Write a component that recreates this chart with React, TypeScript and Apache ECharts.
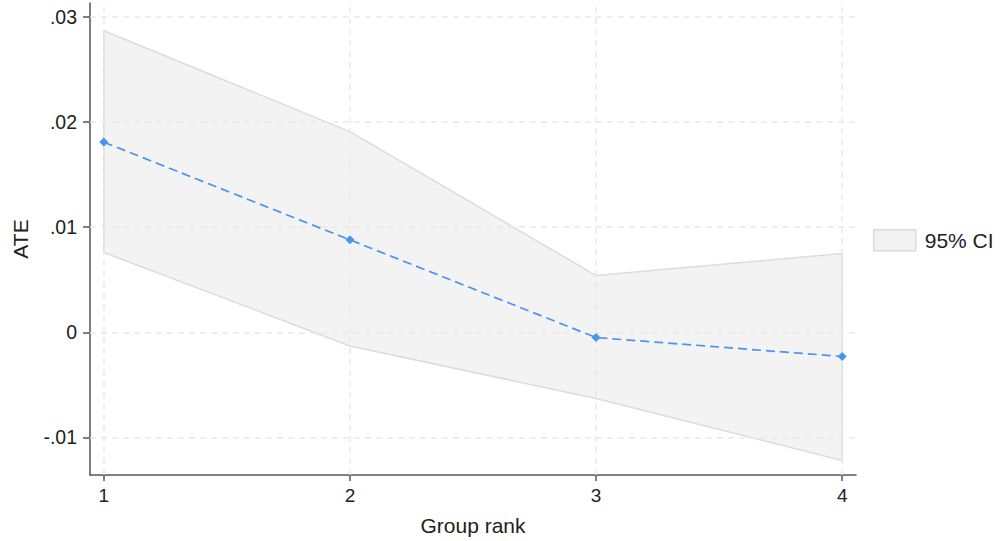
import React, { useEffect, useRef } from "react";
import * as echarts from "echarts";

const groupRanks = [1, 2, 3, 4];
const ateValues = [0.0181, 0.0088, -0.0005, -0.0023];
const ciUpper = [0.0287, 0.0191, 0.0054, 0.0075];
const ciLower = [0.0076, -0.0013, -0.0063, -0.0122];
const yTickValues = [-0.01, 0, 0.01, 0.02, 0.03];
const xTickValues = [1, 2, 3, 4];
const legendLabel = "95% CI";

const fmtY = (v: number) => {
  if (Math.abs(v) < 1e-9) return "0";
  const s = (Math.round(v * 100) / 100).toString();
  return s.replace("0.", ".");
};

const FONT = "Liberation Sans, Arial, Helvetica, sans-serif";

export default function App() {
  const ref = useRef<HTMLDivElement>(null);
  useEffect(() => {
    if (!ref.current) return;
    const chart = echarts.init(ref.current, undefined, { renderer: "svg" });
    const gridLineStyle = { color: "#e9e9e9", width: 1.5, type: [6, 5] as any };
    const option: any = {
      animation: false,
      backgroundColor: "#ffffff",
      textStyle: { fontFamily: FONT },
      grid: { left: 90, right: 144, top: 3, bottom: 65, containLabel: false },
      legend: {
        left: 868,
        top: 224,
        orient: "vertical",
        itemWidth: 42,
        itemHeight: 21,
        itemGap: 10,
        textStyle: { fontSize: 21, color: "#222", fontFamily: FONT, padding: [0, 0, 0, 4] },
        data: [
          {
            name: legendLabel,
            icon: "rect",
            itemStyle: { color: "#f2f2f2", borderColor: "#dadada", borderWidth: 1.5 },
          },
        ],
        selectedMode: false,
      },
      xAxis: {
        type: "value",
        min: 0.944,
        max: 4.056,
        name: "Group rank",
        nameLocation: "middle",
        nameGap: 40,
        nameTextStyle: { fontSize: 21, color: "#222", fontFamily: FONT },
        axisLine: { show: true, onZero: false, lineStyle: { color: "#555", width: 1.5 } },
        axisTick: { show: true, length: 6, customValues: xTickValues, lineStyle: { color: "#555", width: 1.5 } },
        axisLabel: { customValues: xTickValues, fontSize: 19, color: "#222", margin: 11, fontFamily: FONT },
        splitLine: { show: false },
      },
      yAxis: {
        type: "value",
        min: -0.01358,
        max: 0.03134,
        name: "ATE",
        nameLocation: "middle",
        nameGap: 59,
        nameRotate: 90,
        nameTextStyle: { fontSize: 21, color: "#222", fontFamily: FONT },
        axisLine: { show: true, onZero: false, lineStyle: { color: "#555", width: 1.5 } },
        axisTick: { show: true, length: 7, customValues: yTickValues, lineStyle: { color: "#555", width: 1.5 } },
        axisLabel: { customValues: yTickValues, fontSize: 19.5, color: "#222", margin: 13, formatter: fmtY, fontFamily: FONT },
        splitLine: { show: false },
      },
      series: [
        {
          name: legendLabel,
          type: "custom",
          z: 1,
          data: [[0]],
          itemStyle: { color: "#f2f2f2", borderColor: "#dadada", borderWidth: 1.5 },
          renderItem: (_params: any, api: any) => {
            const pts: number[][] = [];
            for (let i = 0; i < groupRanks.length; i++) pts.push(api.coord([groupRanks[i], ciUpper[i]]));
            for (let i = groupRanks.length - 1; i >= 0; i--) pts.push(api.coord([groupRanks[i], ciLower[i]]));
            return {
              type: "polygon",
              shape: { points: pts },
              style: { fill: "#f3f3f3", stroke: "#dcdcdc", lineWidth: 1.5 },
            };
          },
        },
        {
          name: "ATE",
          type: "line",
          z: 3,
          data: groupRanks.map((g, i) => [g, ateValues[i]]),
          symbol: "diamond",
          symbolSize: 9,
          itemStyle: { color: "#4a94ee" },
          lineStyle: { color: "#4a94ee", width: 1.7, type: [9, 5] },
          markLine: {
            silent: true,
            symbol: "none",
            label: { show: false },
            lineStyle: gridLineStyle,
            z: 2,
            data: [
              ...xTickValues.map((v) => ({ xAxis: v })),
              ...yTickValues.map((v) => ({ yAxis: v })),
            ],
          },
        },
      ],
    };
    chart.setOption(option);
    return () => chart.dispose();
  }, []);
  return (
    <div
      ref={ref}
      style={{ position: "absolute", left: 0, top: 0, width: 1000, height: 541 }}
    />
  );
}
